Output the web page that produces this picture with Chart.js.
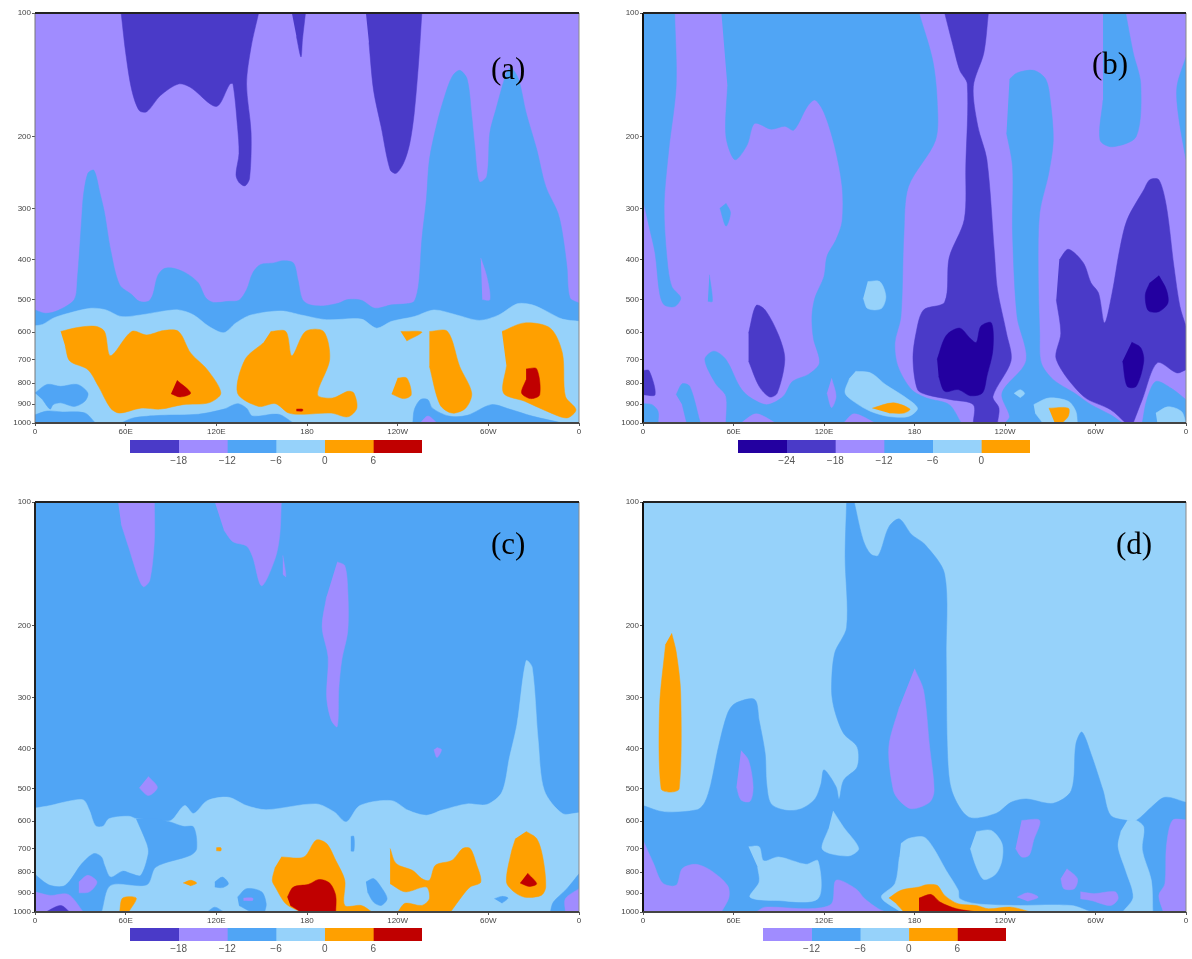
<!DOCTYPE html>
<html>
<head>
<meta charset="utf-8">
<title>Zonal-vertical sections</title>
<script src="https://cdn.jsdelivr.net/npm/chart.js@4/dist/chart.umd.min.js"></script>
<style>
  html, body { margin: 0; background: #fff; }
  #page { position: relative; width: 1192px; height: 959px; overflow: hidden; }
  canvas { position: absolute; filter: blur(0.5px); }
  .tag { position: absolute; font: 31px "Liberation Serif", serif; color: #000; line-height: 30px; }
</style>
</head>
<body>
<div id="page"></div>
<script>
// colours of the shading levels
const navy = "#2300a0", indigo = "#4a3ac8", purple = "#a08cff", blue = "#50a5f5",
      light = "#96d2fa", orange = "#ffa000", red = "#c00000";

const pressureTicks = [100, 200, 300, 400, 500, 600, 700, 800, 900, 1000];
const lonTicks = [0, 60, 120, 180, 240, 300, 360];
const lonLabels = ["0", "60E", "120E", "180", "120W", "60W", "0"];

const fullBox = [[0,100],[360,100],[360,1000],[0,1000]];

// all contour outlines below are [longitude, pressure]

// panel (a)
const aDeep1 = [[57,100],[60,125],[64,154],[69,173],[74,174],[83,159],[95,149],[103,152],[120,169],[129,149],[131,149],[134,189],[135,220],[133,248],[135,259],[139,264],[142,253],[143,196],[140,149],[143,121],[148,100]];
const aDeep2 = [[170,100],[179,100],[177,116],[176,128],[173,114]];
const aDeep3 = [[219,100],[256,100],[254,130],[251,175],[248,208],[244,232],[239,246],[235,241],[229,189],[224,154],[221,118]];
const aBlue = [[0,530],[7,540],[15,532],[26,500],[28,447],[31,313],[32,280],[35,246],[39,242],[43,275],[46,307],[50,378],[56,460],[64,486],[69,505],[75,505],[78,486],[81,439],[85,421],[91,419],[100,431],[108,455],[113,495],[118,508],[128,505],[135,502],[140,473],[144,431],[149,411],[158,407],[164,402],[171,407],[174,447],[177,500],[182,515],[191,518],[201,510],[207,500],[216,502],[225,525],[236,515],[246,512],[251,505],[254,455],[256,357],[259,285],[261,228],[266,186],[271,160],[276,143],[281,138],[286,145],[289,178],[291,211],[294,258],[299,250],[301,196],[305,172],[312,140],[315,136],[320,145],[325,175],[332,215],[338,265],[346,307],[349,344],[352,415],[354,495],[360,510],[360,1000],[0,1000]];
const aSlit = [[295,396],[299,440],[301,500],[296,500]];
const aLight = [[0,579],[5,575],[12,555],[22,540],[37,525],[47,530],[57,550],[70,545],[83,535],[95,530],[105,545],[115,581],[125,602],[133,570],[143,545],[163,533],[176,545],[193,560],[216,558],[226,587],[236,565],[251,550],[264,530],[279,545],[294,562],[307,545],[319,512],[329,515],[339,535],[349,558],[360,565],[360,1000],[0,1000]];
const aLow1 = [[0,955],[8,935],[18,940],[33,945],[40,1000],[0,1000]];
const aBlob = [[0,845],[8,805],[17,814],[28,805],[35,845],[33,885],[26,911],[17,893],[12,902],[10,925],[5,877]];
const aLow2 = [[57,1000],[65,972],[83,958],[108,952],[125,925],[134,897],[140,920],[144,962],[161,952],[171,1000]];
const aLow3 = [[250,1000],[251,928],[255,877],[260,877],[263,920],[274,962],[286,958],[302,902],[314,925],[329,962],[349,1000]];
const aBump = [[255,1000],[260,962],[266,1000]];
const aWarm1 = [[17,598],[28,585],[40,581],[46,598],[50,685],[64,598],[74,610],[85,595],[95,598],[103,675],[114,741],[123,845],[115,893],[98,902],[83,925],[70,920],[56,946],[50,920],[42,814],[35,741],[23,706],[20,650]];
const aWarm2 = [[156,598],[166,598],[170,685],[179,598],[191,598],[195,700],[187,853],[197,869],[207,837],[211,845],[213,920],[207,966],[196,946],[178,952],[168,946],[159,897],[148,911],[134,845],[139,700],[151,638]];
const aWarm3 = [[242,598],[256,600],[246,631]];
const aWarm4 = [[261,598],[273,598],[281,727],[289,845],[285,920],[276,946],[268,902],[261,727]];
const aWarm5 = [[240,777],[246,777],[249,853],[244,872],[236,850]];
const aWarm6 = [[309,598],[324,570],[341,587],[349,675],[351,861],[358,928],[352,972],[339,937],[324,885],[310,845],[312,727]];
const aHot1 = [[94,787],[103,845],[96,864],[90,848]];
const aHot2 = [[325,738],[332,738],[334,853],[328,872],[322,845],[325,784]];
const aHot3 = [[173,925],[177,925],[177,935],[173,935]];

// panel (b)
const bBlue1 = [[0,100],[21,100],[22,150],[17,217],[14,296],[16,400],[19,464],[25,495],[21,520],[14,515],[11,482],[8,385],[4,331],[0,285]];
const bBlue2 = [[52,100],[183,100],[192,130],[195,163],[194,204],[176,265],[173,344],[171,550],[167,638],[169,727],[178,829],[188,869],[203,902],[211,1000],[55,1000],[55,861],[48,800],[41,700],[47,668],[55,700],[64,814],[70,861],[82,902],[93,861],[99,792],[110,760],[117,713],[113,622],[112,550],[114,495],[120,439],[122,392],[128,357],[132,322],[132,265],[127,211],[120,175],[114,163],[109,169],[100,193],[94,189],[85,192],[74,186],[69,210],[61,228],[55,200],[56,151]];
const bBlue3 = [[243,145],[248,140],[259,138],[267,145],[270,163],[272,204],[269,246],[263,307],[262,415],[263,604],[264,713],[272,784],[286,845],[297,902],[310,955],[318,1000],[240,1000],[243,964],[238,845],[254,705],[248,550],[245,344],[245,237],[241,196]];
const bBlue4 = [[305,100],[320,100],[325,125],[330,149],[327,200],[311,212],[303,204],[305,163]];
const bBlue5 = [[360,128],[354,151],[355,178],[360,228]];
const bBlue6 = [[331,1000],[334,877],[340,792],[350,822],[360,877],[360,1000]];
const bBlue7 = [[22,853],[26,802],[31,814],[38,1000],[29,1000],[26,902]];
const bBlue8 = [[0,897],[6,902],[10,937],[10,1000],[0,1000]];
const bSliver = [[44,435],[46,505],[43,505]];
const bSpot = [[55,291],[58,307],[55,331],[51,299]];
const bBump1 = [[65,1000],[75,950],[88,1000]];
const bBump2 = [[125,778],[128,861],[125,917],[122,845]];
const bBump3 = [[133,1000],[140,950],[154,1000]];
const bPale1 = [[149,452],[157,452],[161,491],[158,526],[149,526],[146,496]];
const bPale2 = [[141,748],[151,755],[161,807],[173,861],[182,920],[176,964],[163,964],[151,937],[141,893],[134,845],[137,777]];
const bPale3 = [[259,902],[269,869],[282,885],[287,937],[288,1000],[265,1000],[260,946]];
const bPale4 = [[340,946],[348,913],[357,937],[360,1000],[341,1000]];
const bPale5 = [[246,847],[250,830],[253,847],[250,868]];
const bWarm1 = [[152,920],[166,893],[177,925],[173,946],[163,946]];
const bWarm2 = [[269,920],[282,920],[282,962],[278,1000],[273,1000]];
const bDeep1 = [[200,100],[205,118],[210,138],[215,149],[214,237],[213,319],[203,395],[200,507],[186,530],[181,604],[179,700],[182,829],[188,853],[204,877],[219,902],[219,1000],[235,1000],[236,920],[232,861],[244,705],[241,604],[235,473],[233,385],[228,228],[222,189],[219,151],[226,125],[229,100]];
const bDeep2 = [[70,604],[75,517],[81,530],[90,612],[94,700],[89,845],[84,864],[77,814],[70,706]];
const bDeep3 = [[276,400],[282,377],[292,407],[297,455],[302,482],[306,570],[311,482],[316,378],[321,319],[332,270],[336,255],[342,255],[347,296],[352,415],[356,520],[360,581],[360,741],[354,755],[341,713],[331,877],[325,1000],[320,1000],[310,928],[292,861],[274,700],[277,604],[274,500]];
const bDeep4 = [[0,745],[4,745],[8,853],[0,853]];
const bCore1 = [[195,700],[201,612],[210,587],[217,622],[221,636],[224,581],[231,570],[232,662],[228,769],[225,845],[217,858],[209,829],[200,837],[196,769]];
const bCore2 = [[342,437],[347,473],[348,510],[342,535],[335,532],[333,487],[336,455]];
const bCore3 = [[324,635],[330,655],[332,706],[327,814],[321,814],[318,706]];

// panel (c)
const cCool1 = [[55,100],[79,100],[79,124],[76,155],[72,161],[69,155],[62,129],[57,113]];
const cCool2 = [[119,100],[163,100],[162,120],[159,137],[150,160],[144,136],[140,128],[131,125],[125,117]];
const cCool3 = [[164,135],[166,152],[164,150]];
const cCool4 = [[200,140],[205,143],[207,165],[207,206],[203,243],[201,287],[200,353],[196,340],[193,299],[194,239],[190,202],[193,170]];
const cCool5 = [[75,467],[81,497],[75,520],[69,498]];
const cCool6 = [[266,397],[269,402],[266,420],[264,402]];
const cLight = [[0,558],[10,550],[22,537],[32,533],[36,565],[40,616],[45,618],[49,592],[62,584],[67,592],[81,598],[90,598],[99,550],[105,575],[114,535],[128,525],[140,550],[153,563],[186,545],[198,570],[206,603],[215,550],[236,535],[247,565],[259,581],[269,565],[286,545],[299,547],[309,510],[314,420],[319,348],[325,244],[329,253],[333,382],[337,505],[349,575],[360,573],[360,1000],[0,1000]];
const cLow1 = [[67,592],[74,681],[75,720],[70,814],[64,807],[58,795],[50,822],[46,769],[44,734],[39,720],[31,762],[20,861],[10,861],[2,822],[0,807],[0,1000],[44,1000],[50,861],[74,858],[80,777],[103,727],[107,700],[105,621],[98,618],[90,604],[81,592]];
const cCool7 = [[0,893],[10,911],[22,906],[32,1000],[0,1000]];
const cDeep = [[7,1000],[17,964],[23,1000]];
const cCool8 = [[29,845],[35,814],[41,845],[36,893],[29,898]];
const cBlue1 = [[119,845],[124,822],[128,853],[124,872],[119,869]];
const cBlue2 = [[134,920],[140,877],[150,893],[153,955],[152,1000],[143,997],[135,964]];
const cCool9 = [[138,925],[144,925],[144,937],[138,937]];
const cBlue3 = [[114,1000],[119,973],[125,1000]];
const cBlue4 = [[209,654],[211,654],[211,710],[209,710]];
const cBlue5 = [[219,845],[224,829],[229,869],[233,928],[229,964],[224,946],[220,893]];
const cBlue6 = [[304,928],[309,916],[313,925],[309,952]];
const cBlue7 = [[341,1000],[343,946],[352,877],[360,807],[360,1000]];
const cCool10 = [[351,1000],[351,928],[360,877],[360,1000]];
const cWarm1 = [[56,1000],[58,925],[67,925],[62,1000]];
const cWarm2 = [[120,697],[123,697],[123,709],[120,709]];
const cWarm3 = [[98,850],[103,837],[107,850],[103,864]];
const cWarm4 = [[163,734],[178,734],[186,668],[193,681],[199,748],[205,837],[205,964],[216,964],[223,1000],[176,1000],[166,955],[159,869],[157,837],[159,777]];
const cWarm5 = [[235,700],[239,762],[250,792],[256,829],[261,837],[265,769],[276,748],[283,700],[288,700],[292,762],[295,845],[288,869],[283,911],[275,1000],[240,1000],[245,952],[256,964],[261,928],[259,869],[245,893],[235,853]];
const cWarm6 = [[325,636],[332,662],[336,734],[338,869],[335,911],[324,920],[317,893],[312,845],[315,720],[318,662]];
const cHot1 = [[167,920],[171,869],[181,856],[188,833],[195,850],[199,911],[199,1000],[176,1000],[169,964]];
const cHot2 = [[326,804],[332,853],[327,866],[321,850]];

// panel (d)
const dBlue = [[0,550],[14,570],[36,563],[41,540],[45,487],[50,396],[56,328],[61,310],[74,303],[77,341],[81,411],[82,487],[85,545],[95,565],[105,560],[114,530],[118,487],[120,450],[128,495],[130,530],[133,477],[142,443],[142,396],[133,367],[127,322],[125,288],[127,234],[135,202],[134,136],[135,100],[140,100],[146,124],[151,134],[156,135],[163,115],[170,110],[178,120],[187,127],[200,150],[201,239],[202,420],[205,510],[216,587],[234,575],[244,540],[254,530],[272,543],[284,505],[287,389],[291,364],[297,411],[305,505],[310,581],[321,598],[327,598],[337,555],[346,525],[360,540],[360,1000],[0,1000]];
const dWarm1 = [[19,209],[22,232],[25,293],[24,500],[18,510],[12,500],[11,316],[15,222]];
const dCool1 = [[180,255],[186,288],[190,396],[193,505],[190,540],[178,560],[170,535],[166,505],[163,396],[170,316]];
const dCool2 = [[65,404],[70,427],[73,495],[71,537],[65,533],[62,495]];
const dPale1 = [[126,567],[133,621],[143,700],[136,730],[119,704],[123,627]];
const dPale2 = [[70,693],[77,693],[80,750],[90,734],[108,765],[116,750],[116,928],[88,937],[71,920],[77,845],[76,777]];
const dPale3 = [[171,681],[176,662],[186,656],[192,693],[201,792],[209,885],[210,928],[221,955],[246,964],[284,964],[297,1000],[171,1000],[158,920],[167,853],[170,734]];
const dPale4 = [[221,636],[231,633],[238,681],[238,748],[234,807],[226,833],[221,777],[217,700]];
const dPale5 = [[321,598],[327,598],[332,621],[331,706],[337,837],[338,1000],[318,1000],[325,920],[320,792],[315,693],[317,633]];
const dCool3 = [[0,668],[7,762],[13,850],[22,861],[26,784],[35,765],[45,792],[56,861],[57,920],[52,1000],[0,1000]];
const dCool4 = [[75,1000],[81,973],[110,982],[125,955],[128,837],[141,877],[147,928],[156,982],[161,1000]];
const dCool5 = [[251,598],[263,598],[259,668],[256,727],[251,734],[247,700]];
const dCool6 = [[281,784],[288,829],[286,877],[279,877],[277,829]];
const dCool7 = [[248,920],[255,898],[262,920],[255,941]];
const dCool8 = [[290,893],[299,902],[313,893],[315,928],[310,964],[297,937],[290,928]];
const dCool9 = [[360,596],[351,598],[347,693],[346,853],[342,911],[345,1000],[360,1000]];
const dWarm2 = [[163,925],[171,885],[183,869],[188,858],[195,861],[200,911],[209,955],[221,964],[229,982],[244,973],[257,1000],[173,1000],[168,955]];
const dHot = [[183,925],[191,906],[197,946],[208,982],[222,1000],[183,1000]];

const layersA = [[purple,fullBox],[indigo,aDeep1],[indigo,aDeep2],[indigo,aDeep3],[blue,aBlue],[purple,aSlit],[light,aLight],[blue,aLow1],[blue,aBlob],[blue,aLow2],[blue,aLow3],[purple,aBump],[orange,aWarm1],[orange,aWarm2],[orange,aWarm3],[orange,aWarm4],[orange,aWarm5],[orange,aWarm6],[red,aHot1],[red,aHot2],[red,aHot3]];
const layersB = [[purple,fullBox],[blue,bBlue1],[blue,bBlue2],[blue,bBlue3],[blue,bBlue4],[blue,bBlue5],[blue,bBlue6],[blue,bBlue7],[blue,bBlue8],[blue,bSliver],[blue,bSpot],[purple,bBump1],[purple,bBump2],[purple,bBump3],[light,bPale1],[light,bPale2],[light,bPale3],[light,bPale4],[light,bPale5],[orange,bWarm1],[orange,bWarm2],[indigo,bDeep1],[indigo,bDeep2],[indigo,bDeep3],[indigo,bDeep4],[navy,bCore1],[navy,bCore2],[navy,bCore3]];
const layersC = [[blue,fullBox],[purple,cCool1],[purple,cCool2],[purple,cCool3],[purple,cCool4],[purple,cCool5],[purple,cCool6],[light,cLight],[blue,cLow1],[purple,cCool7],[indigo,cDeep],[purple,cCool8],[blue,cBlue1],[blue,cBlue2],[purple,cCool9],[blue,cBlue3],[blue,cBlue4],[blue,cBlue5],[blue,cBlue6],[blue,cBlue7],[purple,cCool10],[orange,cWarm1],[orange,cWarm2],[orange,cWarm3],[orange,cWarm4],[orange,cWarm5],[orange,cWarm6],[red,cHot1],[red,cHot2]];
const layersD = [[light,fullBox],[blue,dBlue],[orange,dWarm1],[purple,dCool1],[purple,dCool2],[light,dPale1],[light,dPale2],[light,dPale3],[light,dPale4],[light,dPale5],[purple,dCool3],[purple,dCool4],[purple,dCool5],[purple,dCool6],[purple,dCool7],[purple,dCool8],[purple,dCool9],[orange,dWarm2],[red,dHot]];

// colour bars: edges of each shading level
const barEdgesAC = [-24, -18, -12, -6, 0, 6, 12];
const barEdgesB = [-30, -24, -18, -12, -6, 0, 6];
const barEdgesD = [-18, -12, -6, 0, 6, 12];
const barColorsAC = [indigo, purple, blue, light, orange, red];
const barColorsB = [navy, indigo, purple, blue, light, orange];
const barColorsD = [purple, blue, light, orange, red];

const page = document.getElementById("page");

function addCanvas(left, top, width, height) {
  const c = document.createElement("canvas");
  c.width = width;
  c.height = height;
  c.style.left = left + "px";
  c.style.top = top + "px";
  page.appendChild(c);
  return c.getContext("2d");
}

// doubled points stay sharp under the curve tension, so outlines keep to the plot edges
function outlinePoints(pts) {
  const onEdge = ([x, y]) => x === 0 || x === 360 || y === 100 || y === 1000;
  return pts.flatMap(p => (onEdge(p) ? [p, p] : [p])).map(([x, y]) => ({ x, y }));
}

// heavy top/bottom/left lines of the plot box
const framePlugin = {
  id: "frame",
  afterDatasetsDraw(chart, args, opts) {
    const { left, right, top, bottom } = chart.chartArea;
    const ctx = chart.ctx;
    const side = (x1, y1, x2, y2, color, w) => {
      ctx.strokeStyle = color;
      ctx.lineWidth = w;
      ctx.beginPath();
      ctx.moveTo(x1, y1);
      ctx.lineTo(x2, y2);
      ctx.stroke();
    };
    ctx.save();
    side(right, top, right, bottom, "#8a8a8a", 1);
    side(left, top, left, bottom, opts.leftColor, opts.leftWidth);
    side(left, top, right, top, "#222", 2);
    side(left, bottom, right, bottom, "#444", 2);
    ctx.restore();
  }
};

function drawPanel(layers, plotLeft, plotTop, plotWidth, leftColor, leftWidth) {
  const ctx = addCanvas(plotLeft - 40, plotTop - 13, plotWidth + 50, 410 + 13 + 18);
  new Chart(ctx, {
    type: "scatter",
    data: {
      datasets: layers.map(([color, pts], i) => ({
        data: outlinePoints(pts),
        showLine: true,
        fill: "shape",
        tension: 0.3,
        backgroundColor: color,
        borderColor: color,
        borderWidth: 0.5,
        pointRadius: 0,
        order: layers.length - i
      }))
    },
    options: {
      responsive: false,
      animation: false,
      layout: { autoPadding: false, padding: { top: 13, right: 10 } },
      plugins: {
        legend: { display: false },
        tooltip: { enabled: false },
        frame: { leftColor, leftWidth }
      },
      scales: {
        x: {
          type: "linear",
          min: 0,
          max: 360,
          afterBuildTicks: s => { s.ticks = lonTicks.map(value => ({ value })); },
          afterFit: s => { s.height = 18; },
          grid: { drawOnChartArea: false, tickLength: 3, color: "#555" },
          border: { display: false },
          ticks: {
            autoSkip: false, maxRotation: 0, minRotation: 0, padding: 1,
            color: "#444", font: { family: "Liberation Sans", size: 8 },
            callback: (v, i) => lonLabels[i]
          }
        },
        y: {
          type: "logarithmic",
          reverse: true,
          min: 100,
          max: 1000,
          afterBuildTicks: s => { s.ticks = pressureTicks.map(value => ({ value })); },
          afterFit: s => { s.width = 40; },
          grid: { drawOnChartArea: false, tickLength: 3, color: "#555" },
          border: { display: false },
          ticks: {
            autoSkip: false, padding: 1,
            color: "#444", font: { family: "Liberation Sans", size: 8 },
            callback: v => String(v)
          }
        }
      }
    },
    plugins: [framePlugin]
  });
}

function drawColorBar(edges, colors, barLeft, barTop, barWidth) {
  const ctx = addCanvas(barLeft - 20, barTop - 2, barWidth + 40, 30);
  new Chart(ctx, {
    type: "bar",
    data: {
      labels: [""],
      datasets: colors.map((color, i) => ({
        data: [[edges[i], edges[i + 1]]],
        backgroundColor: color,
        barPercentage: 1,
        categoryPercentage: 1
      }))
    },
    options: {
      indexAxis: "y",
      responsive: false,
      animation: false,
      layout: { autoPadding: false, padding: { top: 2, left: 20, right: 20 } },
      plugins: { legend: { display: false }, tooltip: { enabled: false } },
      scales: {
        y: { stacked: true, display: false },
        x: {
          type: "linear",
          min: edges[0],
          max: edges[edges.length - 1],
          afterBuildTicks: s => {
            s.ticks = edges.slice(1, -1).map(value => ({ value }));
          },
          afterFit: s => { s.height = 15; },
          grid: { display: false, drawTicks: false },
          border: { display: false },
          ticks: {
            autoSkip: false, maxRotation: 0, padding: 2,
            color: "#555", font: { family: "Liberation Sans", size: 10 },
            callback: v => (v < 0 ? "\u2212" + Math.abs(v) : String(v))
          }
        }
      }
    }
  });
}

function addTag(text, left, top) {
  const d = document.createElement("div");
  d.className = "tag";
  d.textContent = text;
  d.style.left = left + "px";
  d.style.top = top + "px";
  page.appendChild(d);
}

drawPanel(layersA, 35, 13, 544, "#777", 1);
drawPanel(layersB, 643, 13, 543, "#111", 2);
drawPanel(layersC, 35, 502, 544, "#222", 2);
drawPanel(layersD, 643, 502, 543, "#111", 2);

drawColorBar(barEdgesAC, barColorsAC, 130, 440, 292);
drawColorBar(barEdgesB, barColorsB, 738, 440, 292);
drawColorBar(barEdgesAC, barColorsAC, 130, 928, 292);
drawColorBar(barEdgesD, barColorsD, 763, 928, 243);

addTag("(a)", 491, 54);
addTag("(b)", 1092, 49);
addTag("(c)", 491, 529);
addTag("(d)", 1116, 529);
</script>
</body>
</html>
